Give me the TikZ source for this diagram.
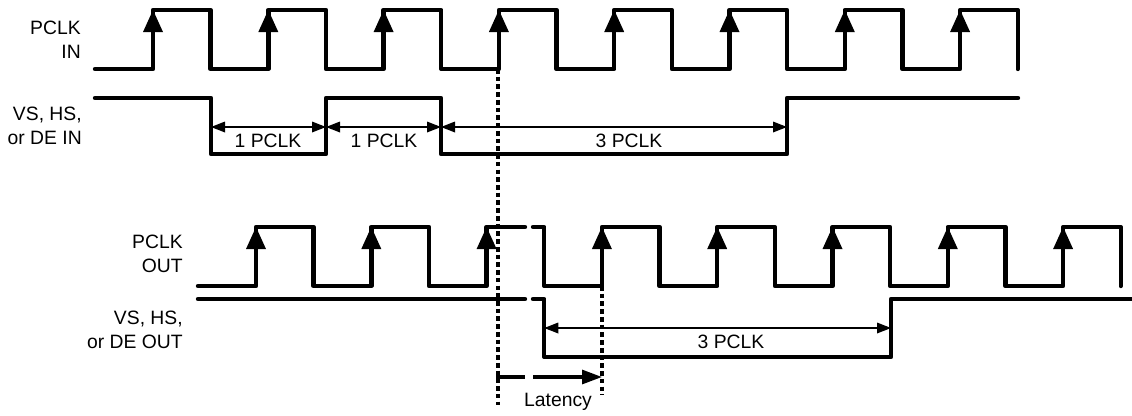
\documentclass[tikz,border=0pt]{standalone}
\usepackage{fontspec}
\setmainfont{Liberation Sans}
\usetikzlibrary{arrows.meta}

\begin{document}
\begin{tikzpicture}[x=0.75pt,y=-0.75pt,
  signal/.style={line width=3.3pt,line join=round,line cap=round},
  span/.style={line width=0.9pt,{Triangle[length=10.5pt,width=8pt]}-{Triangle[length=10.5pt,width=8pt]}},
  guideline/.style={line width=2.4pt,dash pattern=on 3.5pt off 2.3pt},
  lbl/.style={font=\fontsize{14.5}{18}\selectfont,align=right,anchor=east,inner sep=0pt},
  txt/.style={font=\fontsize{14.5}{18}\selectfont,inner sep=0pt}]
\useasboundingbox (0,0) rectangle (1132,415);

% signal names
\node[lbl] (pclkin) at (81,40) {PCLK\\IN};
\node[lbl] (syncin) at (82,126) {VS, HS,\\or DE IN};
\node[lbl] (pclkout) at (183,254) {PCLK\\OUT};
\node[lbl] (syncout) at (183,330) {VS, HS,\\or DE OUT};

% input side
\draw[signal] (95,69) \foreach \k in {0,...,7} {
  -- ({153+115.3*\k},69) -- ++(0,-59) -- ++(57.65,0) -- ++(0,59)};
\foreach \k in {0,...,7}
  \fill ({153+115.3*\k},10) -- ++(-10,22) -- ++(20,0) -- cycle;
\draw[signal] (95,98) -- (211,98) -- (211,154) -- (326,154) -- (326,98)
  -- (441,98) -- (441,154) -- (787,154) -- (787,98) -- (1018,98);
\coordinate (a0) at (211,127);
\coordinate (a1) at (326,127);
\coordinate (a2) at (441,127);
\coordinate (a3) at (787,127);
\draw[span] (a0) -- (a1);
\draw[span] (a1) -- (a2);
\draw[span] (a2) -- (a3);
\node[txt] (one1) at (268,141) {1 PCLK};
\node[txt] (one2) at (384,141) {1 PCLK};
\node[txt] (three1) at (629,141) {3 PCLK};

% output side
\draw[signal] (198,286) \foreach \k in {0,1} {
  -- ({256+115.3*\k},286) -- ++(0,-59) -- ++(57.65,0) -- ++(0,59)}
  -- (486.6,286) -- (486.6,227) -- (525,227);
\draw[signal] (533,227) -- (544.25,227) -- (544.25,286) \foreach \k in {3,...,7} {
  -- ({256+115.3*\k},286) -- ++(0,-59) -- ++(57.65,0) -- ++(0,59)};
\foreach \k in {0,...,7}
  \fill ({256+115.3*\k},227) -- ++(-10,22) -- ++(20,0) -- cycle;
\draw[signal] (198,299) -- (525,299);
\draw[signal] (533,299) -- (544.25,299) -- (544.25,357) -- (891,357)
  -- (891,299) -- (1134,299);
\coordinate (b0) at (544.25,328);
\coordinate (b1) at (891,328);
\draw[span] (b0) -- (b1);
\node[txt] (three2) at (731,342) {3 PCLK};

% latency
\coordinate (tin) at (498,69);
\coordinate (tinend) at (498,405);
\coordinate (tout) at (602,286);
\coordinate (toutend) at (602,395);
\draw[guideline] (tin) -- (tinend);
\draw[guideline] (tout) -- (toutend);
\draw[line width=2.3pt] (498,383) -- (498,377) -- (525,377);
\draw[line width=2.3pt,-{Triangle[length=15pt,width=10.5pt]}] (533,377) -- (602,377);
\node[txt] (lat) at (558,402) {Latency};
\end{tikzpicture}
\end{document}
